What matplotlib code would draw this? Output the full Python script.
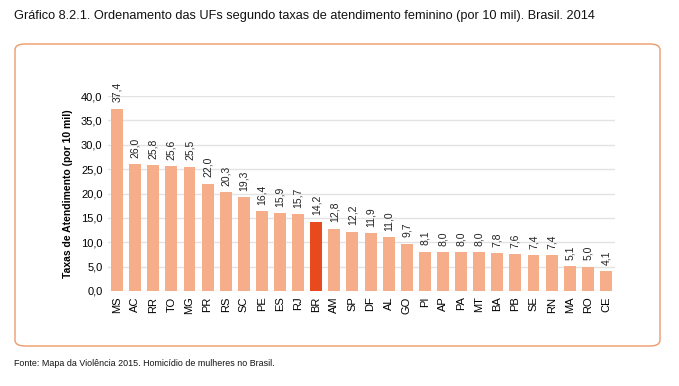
import matplotlib.pyplot as plt
from matplotlib.patches import FancyBboxPatch

ufs = ['MS', 'AC', 'RR', 'TO', 'MG', 'PR', 'RS', 'SC', 'PE', 'ES', 'RJ', 'BR', 'AM', 'SP',
       'DF', 'AL', 'GO', 'PI', 'AP', 'PA', 'MT', 'BA', 'PB', 'SE', 'RN', 'MA', 'RO', 'CE']
taxas = [37.4, 26.0, 25.8, 25.6, 25.5, 22.0, 20.3, 19.3, 16.4, 15.9, 15.7, 14.2, 12.8, 12.2,
         11.9, 11.0, 9.7, 8.1, 8.0, 8.0, 8.0, 7.8, 7.6, 7.4, 7.4, 5.1, 5.0, 4.1]
yticks = [0, 5, 10, 15, 20, 25, 30, 35, 40]

plt.rcParams['font.family'] = ['Liberation Sans', 'DejaVu Sans']

fig = plt.figure(figsize=(6.79, 3.86), dpi=100)

# caixa laranja arredondada
box = FancyBboxPatch((15 / 679, 1 - 346 / 386), (660 - 15) / 679, (346 - 44) / 386,
                     boxstyle='round,pad=0,rounding_size=0.015',
                     transform=fig.transFigure, facecolor='none',
                     edgecolor='#EF9A6A', linewidth=1.0, zorder=-1)
fig.patches.append(box)

ax = fig.add_axes([108 / 679, 1 - 291 / 386, (615 - 108) / 679, (291 - 96) / 386])
ax.set_facecolor('none')

cores = ['#E8491D' if uf == 'BR' else '#F5AE89' for uf in ufs]
x = list(range(len(ufs)))
ax.bar(x, taxas, width=0.66, color=cores, zorder=2)

for xi, v in zip(x, taxas):
    ax.text(xi, v + 1.3, f'{v:.1f}'.replace('.', ','), rotation=90, ha='center',
            va='bottom', fontsize=7.5, color='#222222', clip_on=False)

ax.set_xlim(-0.5, len(ufs) - 0.5)
ax.set_ylim(0, 40)
ax.set_yticks(yticks)
ax.set_yticklabels([f'{t:.1f}'.replace('.', ',') for t in yticks], fontsize=8)
ax.set_xticks(x)
ax.set_xticklabels(ufs, rotation=90, fontsize=8)
ax.grid(axis='y', color='#E3E3E3', linewidth=1.0, zorder=0)
ax.tick_params(length=0, pad=4)
for s in ax.spines.values():
    s.set_visible(False)
ax.set_ylabel('Taxas de Atendimento (por 10 mil)', fontsize=7.5, fontweight='bold',
              labelpad=6)

fig.text(14 / 679, 1 - 16 / 386,
         'Gráfico 8.2.1. Ordenamento das UFs segundo taxas de atendimento feminino (por 10 mil). Brasil. 2014',
         fontsize=9.2, va='center', ha='left', color='#111111')
fig.text(14 / 679, 1 - 364 / 386,
         'Fonte: Mapa da Violência 2015. Homicídio de mulheres no Brasil.',
         fontsize=6.4, va='center', ha='left', color='#111111')

fig.savefig('out.png', dpi=100)
